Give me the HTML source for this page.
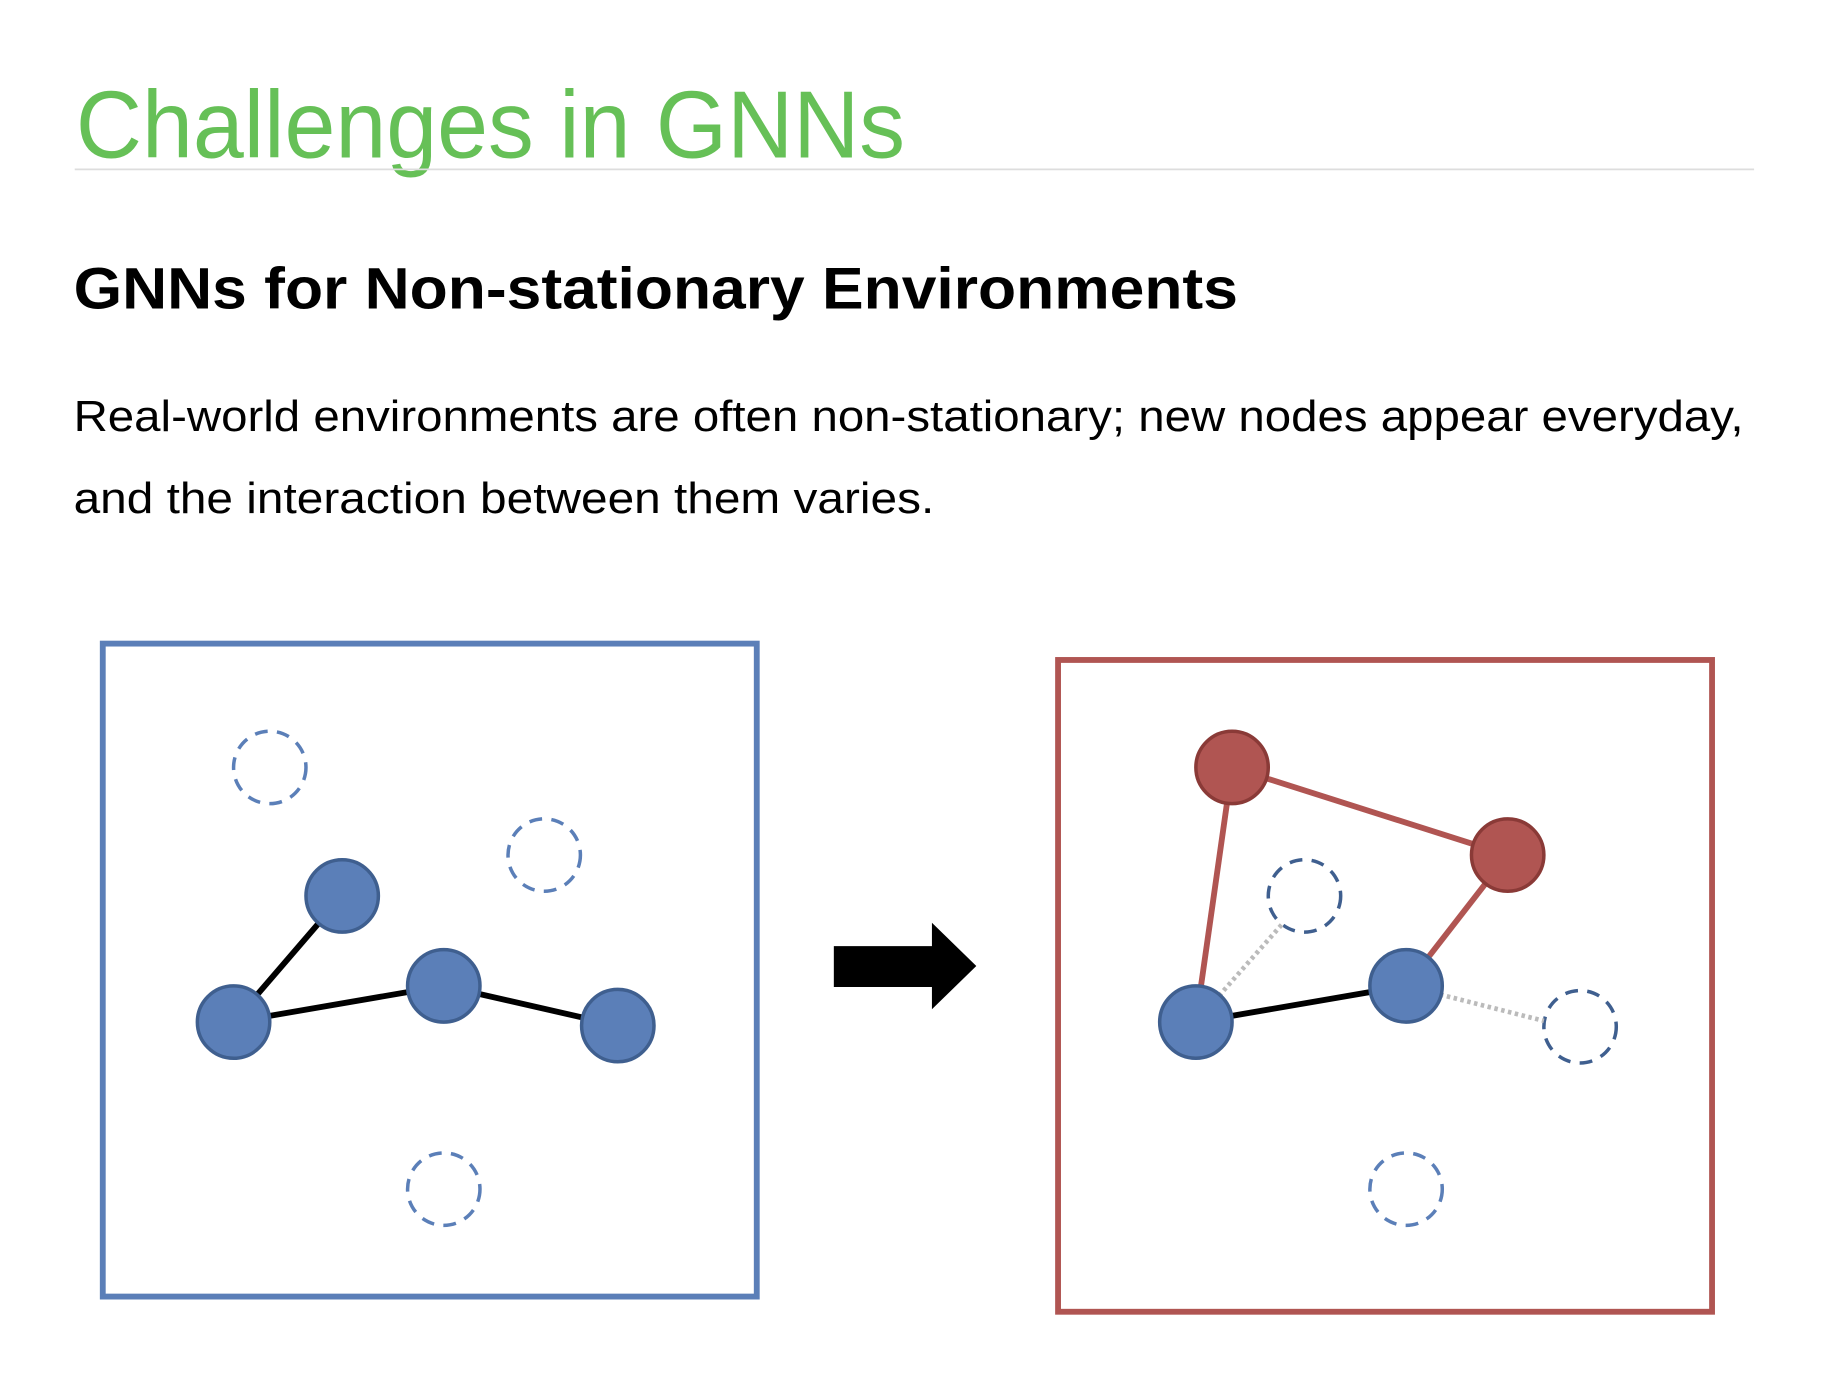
<!DOCTYPE html>
<html><head><meta charset="utf-8"><style>
html,body{margin:0;padding:0;background:#fff;}
svg{display:block;}
</style></head><body>
<svg width="1830" height="1376" viewBox="0 0 1567 1178" xmlns="http://www.w3.org/2000/svg" preserveAspectRatio="none">
<rect width="1567" height="1178" fill="#fff"/>
<text x="65" y="135" font-family="Liberation Sans, Noto Sans CJK KR, sans-serif" font-size="82" fill="#66C057" textLength="710" lengthAdjust="spacingAndGlyphs">Challenges in GNNs</text>
<line x1="64" y1="145" x2="1502" y2="145" stroke="#dddddd" stroke-width="1.5"/>
<text x="63" y="264" font-family="Liberation Sans, sans-serif" font-weight="bold" font-size="50" fill="#000" textLength="997" lengthAdjust="spacingAndGlyphs">GNNs for Non-stationary Environments</text>
<text x="63" y="369" font-family="Liberation Sans, sans-serif" font-size="37" fill="#000" textLength="1430" lengthAdjust="spacingAndGlyphs">Real-world environments are often non-stationary; new nodes appear everyday,</text>
<text x="63" y="439" font-family="Liberation Sans, sans-serif" font-size="37" fill="#000" textLength="737" lengthAdjust="spacingAndGlyphs">and the interaction between them varies.</text>

<rect x="88" y="551" width="560" height="559" fill="none" stroke="#5B7FB8" stroke-width="5"/>
<g fill="none" stroke="#5B7FB8" stroke-width="3" stroke-dasharray="11 8">
<circle cx="231" cy="657" r="31"/><circle cx="466" cy="732" r="31"/><circle cx="380" cy="1018" r="31"/>
</g>
<g stroke="#000" stroke-width="5">
<line x1="293" y1="767" x2="200" y2="875"/><line x1="200" y1="875" x2="380" y2="844"/><line x1="380" y1="844" x2="529" y2="878"/>
</g>
<g fill="#5B7FB8" stroke="#3F5F8F" stroke-width="3">
<circle cx="293" cy="767" r="31"/><circle cx="200" cy="875" r="31"/><circle cx="380" cy="844" r="31"/><circle cx="529" cy="878" r="31"/>
</g>

<polygon points="714,810 798,810 798,790 836,827 798,864 798,845 714,845" fill="#000"/>

<rect x="906" y="565" width="560" height="558" fill="none" stroke="#B05552" stroke-width="5"/>
<g fill="none" stroke="#3F5F8F" stroke-width="3" stroke-dasharray="11 8">
<circle cx="1117" cy="767" r="31"/><circle cx="1353" cy="879" r="31"/>
</g>
<circle cx="1204" cy="1018" r="31" fill="none" stroke="#5B7FB8" stroke-width="3" stroke-dasharray="11 8"/>
<g stroke="#bbb" stroke-width="4" stroke-dasharray="3 3">
<line x1="1024" y1="875" x2="1098" y2="791"/><line x1="1204" y1="844" x2="1322" y2="874"/>
</g>
<g stroke="#B05552" stroke-width="5">
<line x1="1055" y1="657" x2="1291" y2="732"/><line x1="1055" y1="657" x2="1024" y2="875"/><line x1="1291" y1="732" x2="1204" y2="844"/>
</g>
<line x1="1024" y1="875" x2="1204" y2="844" stroke="#000" stroke-width="5"/>
<g fill="#B05552" stroke="#8A3A37" stroke-width="3">
<circle cx="1055" cy="657" r="31"/><circle cx="1291" cy="732" r="31"/>
</g>
<g fill="#5B7FB8" stroke="#3F5F8F" stroke-width="3">
<circle cx="1024" cy="875" r="31"/><circle cx="1204" cy="844" r="31"/>
</g>
</svg>
</body></html>
